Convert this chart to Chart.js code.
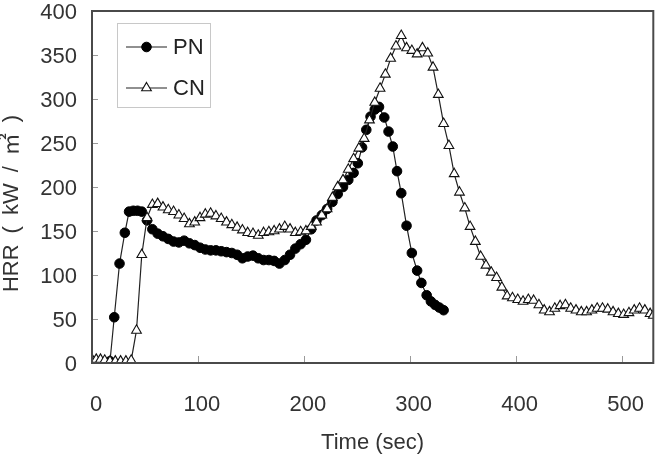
<!DOCTYPE html>
<html>
<head>
<meta charset="utf-8">
<script src="https://cdn.jsdelivr.net/npm/chart.js@4.4.1/dist/chart.umd.min.js"></script>
<style>
  html, body { margin: 0; padding: 0; background: #fff; }
  #wrap { width: 660px; height: 455px; }
</style>
</head>
<body>
<div id="wrap"><canvas id="c" width="660" height="455"></canvas></div>
<script>
const pnTime = [17,21,26,31,35,39,43,47,52,57,62,67,72,77,82,87,92,97,102,107,112,117,122,127,132,137,142,147,152,157,162,167,172,177,182,187,192,197,202,207,212,217,222,227,232,237,242,247,251,255,259,263,267,271,276,280,284,288,292,297,302,307,311,316,320,324,328,332];
const pnHRR  = [2,52,113,148,172,173,173,172,162,152,147,144,141,138,137,139,136,134,131,129,128,128,127,126,125,123,119,121,122,119,117,117,116,113,117,123,130,135,140,152,162,168,175,183,192,200,208,216,227,245,265,280,288,291,279,263,246,218,193,156,125,105,91,77,70,66,63,60];
const cnTime = [0,4,8,12,17,22,27,32,37,42,47,52,57,62,67,72,77,82,87,92,97,102,107,112,117,122,127,132,137,142,147,152,157,162,167,172,177,182,187,192,197,202,207,212,217,222,227,232,237,242,247,252,257,262,267,272,277,282,287,292,297,302,307,312,317,322,327,332,337,342,347,352,357,362,367,372,377,382,387,392,397,402,407,412,417,422,427,432,437,442,447,452,457,462,467,472,477,482,487,492,497,502,507,512,517,522,527,530];
const cnHRR  = [4,4,4,3,2,2,2,2,3,37,123,165,180,181,177,174,172,168,164,158,160,165,169,170,167,164,160,157,154,151,148,147,145,148,149,150,152,155,152,148,149,150,155,160,168,175,188,200,208,220,232,244,255,276,296,312,328,346,360,372,358,355,351,358,352,336,305,272,247,215,194,176,155,138,121,111,103,97,86,76,74,72,70,72,71,66,60,58,62,65,66,62,60,58,58,60,62,62,61,58,56,55,57,60,62,60,56,54];
const seriesNames = ['PN', 'CN'];
const xTicks = [0,100,200,300,400,500];
const yTicks = [0,50,100,150,200,250,300,350,400];
const xTitle = 'Time (sec)';
const yTitle = 'HRR\u2002(\u2002kW\u2002/\u2002㎡\u2002)\u2002\u2002\u2002';

const FONT = "'Liberation Sans', Arial, 'Noto Sans CJK KR', sans-serif";

function pts(xs, ys) { return xs.map((x, i) => ({ x: x, y: ys[i] })); }

const framePlugin = {
  id: 'frame',
  afterDatasetsDraw(chart) {
    const { ctx, chartArea: a, scales } = chart;
    ctx.save();
    ctx.strokeStyle = '#9a9a9a';
    ctx.lineWidth = 1;
    ctx.beginPath();
    xTicks.forEach(v => {
      const px = Math.round(scales.x.getPixelForValue(v)) + 0.5;
      ctx.moveTo(px, a.bottom); ctx.lineTo(px, a.bottom - 7);
    });
    yTicks.forEach(v => {
      const py = Math.round(scales.y.getPixelForValue(v)) + 0.5;
      ctx.moveTo(a.left, py); ctx.lineTo(a.left + 6, py);
    });
    ctx.stroke();
    ctx.strokeStyle = '#4a4a4a';
    ctx.lineWidth = 2;
    ctx.strokeRect(a.left, a.top, a.right - a.left, a.bottom - a.top);
    ctx.restore();
  },
  afterDraw(chart) {
    const { ctx, chartArea: a } = chart;
    const ds = chart.data.datasets;
    const bx = a.left + 25, by = a.top + 12, bw = 93, bh = 84;
    ctx.save();
    ctx.fillStyle = '#fff';
    ctx.fillRect(bx, by, bw, bh);
    ctx.strokeStyle = '#c8c8c8';
    ctx.lineWidth = 1;
    ctx.strokeRect(bx + 0.5, by + 0.5, bw, bh);
    ds.forEach((d, i) => {
      const cy = by + 24 + i * 41;
      const x0 = bx + 9, x1 = bx + 50;
      ctx.strokeStyle = '#222';
      ctx.lineWidth = 1.2;
      ctx.beginPath(); ctx.moveTo(x0, cy); ctx.lineTo(x1, cy); ctx.stroke();
      ctx.fillStyle = d.pointBackgroundColor;
      ctx.strokeStyle = d.pointBorderColor;
      ctx.lineWidth = d.pointBorderWidth || 1;
      Chart.helpers.drawPoint(ctx, { pointStyle: d.pointStyle, radius: d.pointRadius, borderWidth: d.pointBorderWidth || 1, rotation: 0 }, (x0 + x1) / 2, cy);
      ctx.fillStyle = '#222';
      ctx.font = "22px " + FONT;
      ctx.textBaseline = 'middle';
      ctx.textAlign = 'left';
      ctx.fillText(d.label, bx + 56, cy + 1);
    });
    ctx.restore();
  }
};

new Chart(document.getElementById('c'), {
  type: 'line',
  data: {
    datasets: [
      {
        label: seriesNames[0],
        data: pts(pnTime, pnHRR),
        borderColor: '#222', borderWidth: 1.2,
        pointStyle: 'circle', pointRadius: 4.8,
        pointBackgroundColor: '#000', pointBorderColor: '#000', pointBorderWidth: 1,
        tension: 0, order: 2
      },
      {
        label: seriesNames[1],
        data: pts(cnTime, cnHRR),
        borderColor: '#222', borderWidth: 1.2,
        pointStyle: 'triangle', pointRadius: 5.6,
        pointBackgroundColor: '#fff', pointBorderColor: '#111', pointBorderWidth: 1.1,
        tension: 0, order: 1
      }
    ]
  },
  options: {
    responsive: false,
    animation: false,
    events: [],
    layout: { padding: { top: 11, right: 5, left: 0, bottom: 0 } },
    plugins: { legend: { display: false }, tooltip: { enabled: false } },
    scales: {
      x: {
        type: 'linear', min: 0, max: 530,
        afterBuildTicks: s => { s.ticks = xTicks.map(v => ({ value: v })); },
        afterFit: s => { s.height = 92; s.paddingLeft = 0; s.paddingRight = 0; },
        grid: { display: false, drawTicks: false },
        border: { display: false },
        ticks: { color: '#333', font: { size: 22, family: FONT }, padding: 29, labelOffset: 4, autoSkip: false, maxRotation: 0 },
        title: { display: true, text: xTitle, color: '#333', font: { size: 22, family: FONT }, padding: { top: 0, bottom: -1 } }
      },
      y: {
        type: 'linear', min: 0, max: 400,
        afterBuildTicks: s => { s.ticks = yTicks.map(v => ({ value: v })); },
        afterFit: s => { s.width = 92; s.paddingTop = 0; s.paddingBottom = 0; },
        grid: { display: false, drawTicks: false },
        border: { display: false },
        ticks: { color: '#333', font: { size: 22, family: FONT }, padding: 15, labelOffset: 2, autoSkip: false },
        title: { display: true, text: yTitle, color: '#333', font: { size: 22, family: FONT }, padding: { top: -1, bottom: 0 } }
      }
    }
  },
  plugins: [framePlugin]
});
</script>
</body>
</html>
